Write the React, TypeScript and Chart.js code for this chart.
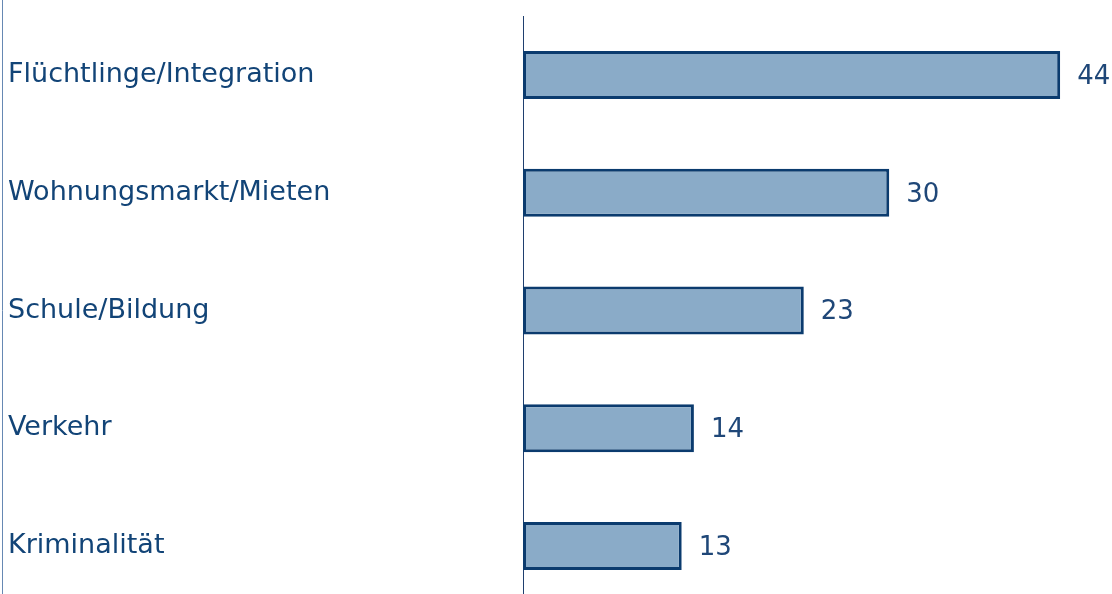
import React, { useEffect, useRef } from "react";
import { Chart, registerables } from "chart.js";

Chart.register(...registerables);

const categories: string[] = [
  "Flüchtlinge/Integration",
  "Wohnungsmarkt/Mieten",
  "Schule/Bildung",
  "Verkehr",
  "Kriminalität",
];
const values: number[] = [44, 30, 23, 14, 13];

const FONT = "'DejaVu Sans', Verdana, sans-serif";
const TEXT_COLOR = "#124477";

const valueLabels = {
  id: "valueLabels",
  afterDatasetsDraw(chart: any) {
    const ctx = chart.ctx;
    const meta = chart.getDatasetMeta(0);
    ctx.save();
    ctx.font = `26px ${FONT}`;
    ctx.fillStyle = "#1f4778";
    ctx.textAlign = "left";
    ctx.textBaseline = "middle";
    meta.data.forEach((bar: any, i: number) => {
      ctx.fillText(String(values[i]), bar.x + 17, bar.y + 2);
    });
    ctx.restore();
  },
};

const leftRule = {
  id: "leftRule",
  beforeDraw(chart: any) {
    const ctx = chart.ctx;
    ctx.save();
    ctx.strokeStyle = "#6688b3";
    ctx.lineWidth = 1;
    ctx.beginPath();
    ctx.moveTo(2.5, 0);
    ctx.lineTo(2.5, chart.height);
    ctx.stroke();
    ctx.restore();
  },
};

export default function App() {
  const ref = useRef<HTMLCanvasElement | null>(null);
  useEffect(() => {
    if (!ref.current) return;
    const chart = new Chart(ref.current, {
      type: "bar",
      data: {
        labels: categories,
        datasets: [
          {
            data: values,
            backgroundColor: "#8aabc8",
            borderColor: "#0b3b6e",
            borderWidth: 3,
            borderSkipped: false,
            categoryPercentage: 1,
            barPercentage: 0.408,
          },
        ],
      },
      options: {
        indexAxis: "y",
        responsive: false,
        animation: false,
        devicePixelRatio: 1,
        layout: { padding: { left: 8, top: 15, right: 3, bottom: 0 } },
        plugins: {
          legend: { display: false },
          tooltip: { enabled: false },
        },
        scales: {
          x: {
            display: false,
            min: 0,
            max: 48,
          },
          y: {
            grid: { display: false },
            border: { display: true, color: "#1f3f6f", width: 1 },
            ticks: {
              crossAlign: "far",
              color: TEXT_COLOR,
              font: { family: FONT, size: 27 },
              padding: 0,
            },
            afterFit(scale: any) {
              scale.width = 515;
            },
          },
        },
      },
      plugins: [leftRule, valueLabels],
    });
    return () => chart.destroy();
  }, []);
  return (
    <div
      style={{
        position: "fixed",
        left: 0,
        top: 0,
        width: 1112,
        height: 594,
        overflow: "hidden",
        background: "#ffffff",
      }}
    >
      <canvas ref={ref} width={1112} height={621} style={{ display: "block" }} />
    </div>
  );
}
